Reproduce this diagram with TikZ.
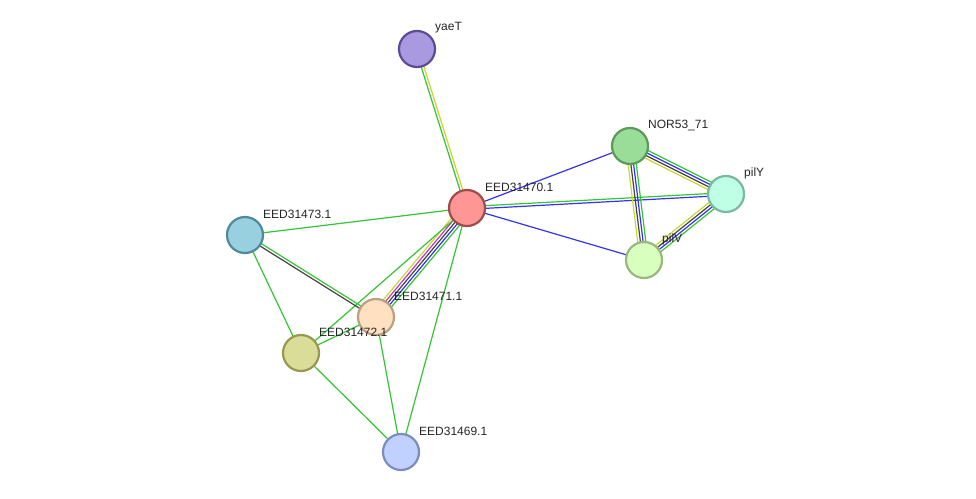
\documentclass[tikz,border=0pt]{standalone}
\usepackage{fontspec}
\newfontfamily\lblfont{Liberation Sans}
\usetikzlibrary{calc,backgrounds}
\definecolor{lgreen}{HTML}{33C633}
\definecolor{lblue}{HTML}{3333F0}
\definecolor{lblack}{HTML}{444444}
\definecolor{lpink}{HTML}{CC33CC}
\definecolor{lyellow}{HTML}{C8D830}
\tikzset{
  prot/.style={circle,minimum size=36pt,inner sep=0pt,line width=2.2pt},
  lbl/.style={font=\lblfont\fontsize{12}{13}\selectfont,text=black!85,anchor=west,xshift=18pt,yshift=21pt,inner sep=0pt},
  ln/.style={line width=1.2pt}
}
% parallel lines between two nodes, one per colour
\newcommand{\bond}[3]{%
  \foreach \c [count=\n] in {#3} {\global\let\bondn\n}%
  \foreach \c [count=\i] in {#3} {
    \pgfmathsetmacro{\off}{(\i-(\bondn+1)/2)*2.7}
    \draw[ln,\c] ($(#1.center)!\off pt!90:(#2.center)$) -- ($(#2.center)!\off pt!-90:(#1.center)$);
  }}
\begin{document}
\begin{tikzpicture}[x=1pt,y=-1pt]
    \useasboundingbox (0,0) rectangle (976,498);
    % proteine
    \node[prot,draw=red!45!black!70,fill={rgb,255:red,255;green,150;blue,150}] (e70) at (467,208) {};
    \node[prot,draw={rgb,255:red,92;green,74;blue,154},fill={rgb,255:red,168;green,153;blue,224}] (yaet) at (417,49) {};
    \node[prot,draw={rgb,255:red,90;green,154;blue,90},fill={rgb,255:red,153;green,221;blue,153}] (nor) at (630,146) {};
    \node[prot,draw={rgb,255:red,122;green,184;blue,160},fill={rgb,255:red,191;green,255;blue,230}] (pily) at (726,194) {};
    \node[prot,draw={rgb,255:red,152;green,184;blue,128},fill={rgb,255:red,217;green,255;blue,191}] (pilv) at (644,260) {};
    \node[prot,draw={rgb,255:red,79;green,138;blue,154},fill={rgb,255:red,152;green,208;blue,224}] (e73) at (245,235) {};
    \node[prot,draw={rgb,255:red,184;green,160;blue,128},fill={rgb,255:red,255;green,224;blue,192}] (e71) at (376,317) {};
    \node[prot,draw={rgb,255:red,152;green,153;blue,78},fill={rgb,255:red,218;green,221;blue,152}] (e72) at (301,353) {};
    \node[prot,draw={rgb,255:red,123;green,140;blue,192},fill={rgb,255:red,192;green,208;blue,255}] (e69) at (401,452) {};
    % Beschriftung
    \node[lbl] (t70) at (e70) {EED31470.1};
    \node[lbl] (tyaet) at (yaet) {yaeT};
    \node[lbl] (tnor) at (nor) {NOR53\_71};
    \node[lbl] (tpily) at (pily) {pilY};
    \node[lbl] (tpilv) at (pilv) {pilV};
    \node[lbl] (t73) at (e73) {EED31473.1};
    \node[lbl] (t71) at (e71) {EED31471.1};
    \node[lbl] (t72) at (e72) {EED31472.1};
    \node[lbl] (t69) at (e69) {EED31469.1};
    % Kanten
    \begin{scope}[on background layer]
      \bond{yaet}{e70}{lgreen,lyellow}
      \bond{e70}{nor}{lblue}
      \bond{e70}{pily}{lblue,lgreen}
      \bond{e70}{pilv}{lblue}
      \bond{e70}{e73}{lgreen}
      \bond{e70}{e71}{lyellow,lpink,lblack,lblue,lgreen}
      \bond{e70}{e72}{lgreen}
      \bond{e70}{e69}{lgreen}
      \bond{nor}{pily}{lyellow,lblack,lblue,lgreen}
      \bond{nor}{pilv}{lyellow,lblack,lblue,lgreen}
      \bond{pily}{pilv}{lyellow,lblack,lblue,lgreen}
      \bond{e73}{e71}{lblack,lgreen}
      \bond{e73}{e72}{lgreen}
      \bond{e71}{e72}{lgreen}
      \bond{e71}{e69}{lgreen}
      \bond{e72}{e69}{lgreen}
    \end{scope}
\end{tikzpicture}
\end{document}
